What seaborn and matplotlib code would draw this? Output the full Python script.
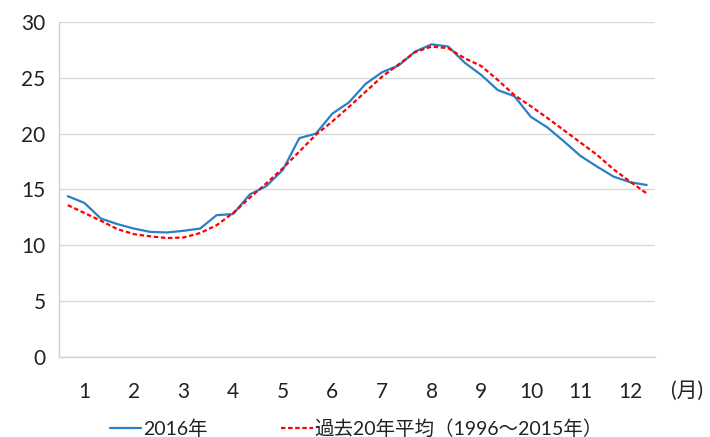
import matplotlib
matplotlib.use('Agg')
import matplotlib.pyplot as plt
import numpy as np
import pandas as pd
import seaborn as sns

# 旬ごとの気温（1月上旬〜12月下旬、36点）
months = [str(m) for m in range(1, 13)]
temp_2016 = [14.4, 13.8, 12.4, 11.9, 11.5, 11.2, 11.15, 11.3, 11.5, 12.7, 12.8, 14.55,
             15.3, 16.75, 19.6, 20.0, 21.8, 22.8, 24.45, 25.5, 26.1, 27.35, 28.0, 27.8,
             26.35, 25.25, 23.9, 23.35, 21.5, 20.55, 19.3, 18.0, 17.05, 16.15, 15.65, 15.4]
temp_avg = [13.6, 12.9, 12.2, 11.45, 11.0, 10.8, 10.65, 10.7, 11.1, 11.8, 12.9, 14.25,
            15.55, 16.9, 18.4, 19.9, 21.1, 22.4, 23.75, 25.1, 26.2, 27.3, 27.8, 27.65,
            26.75, 26.05, 24.8, 23.45, 22.45, 21.4, 20.3, 19.2, 18.1, 16.8, 15.7, 14.65]
label_2016 = '2016年'
label_avg = '過去20年平均（1996～2015年）'

df = pd.DataFrame({
    'idx': list(range(len(temp_2016))) * 2,
    'temp': temp_2016 + temp_avg,
    'series': [label_2016] * len(temp_2016) + [label_avg] * len(temp_avg),
})

sns.set_style('white')
plt.rcParams['font.family'] = ['Lato', 'Noto Sans CJK JP', 'DejaVu Sans']

fig = plt.figure(figsize=(7.1, 4.37), dpi=100)
ax = fig.add_axes([0.0838, 0.1831, 0.8387, 0.7666])

sns.lineplot(data=df, x='idx', y='temp', hue='series', style='series',
             palette={label_2016: '#2a7fc6', label_avg: '#ff0000'},
             dashes={label_2016: '', label_avg: (2, 1.2)},
             linewidth=1.6, ax=ax)

ax.set_xlim(-0.5, 35.5)
ax.set_ylim(0, 30)
ax.set_yticks(range(0, 31, 5))
ax.yaxis.grid(True, color='#d9d9d9', linewidth=1)
ax.set_axisbelow(True)

# 旬の境目に目盛線、月の中央にラベル
ax.set_xticks(np.arange(-0.5, 36, 1))
ax.set_xticklabels([])
ax.set_xticks(np.arange(1, 36, 3), minor=True)
ax.set_xticklabels(months, minor=True, fontsize=15, color='#222222')
ax.tick_params(axis='x', which='major', length=8, width=1, color='#d0d0d0', direction='out')
ax.tick_params(axis='x', which='minor', length=0, pad=18)
ax.tick_params(axis='y', length=6, width=1, color='#d0d0d0', labelsize=15,
               labelcolor='#222222', pad=4)

for s in ['top', 'right']:
    ax.spines[s].set_visible(False)
for s in ['left', 'bottom']:
    ax.spines[s].set_color('#d0d0d0')
    ax.spines[s].set_linewidth(1)

ax.set_xlabel('')
ax.set_ylabel('')

handles, labels = ax.get_legend_handles_labels()
ax.get_legend().remove()
fig.legend(handles, labels, loc='center', bbox_to_anchor=(0.502, 0.02),
           ncol=2, frameon=False, fontsize=14, handlelength=1.6,
           handletextpad=0.1, columnspacing=3.8, labelcolor='#222222')

fig.text(0.967, 0.105, '(月)', fontsize=15, ha='center', va='center',
         color='#222222')

fig.savefig('out.png', dpi=100)
